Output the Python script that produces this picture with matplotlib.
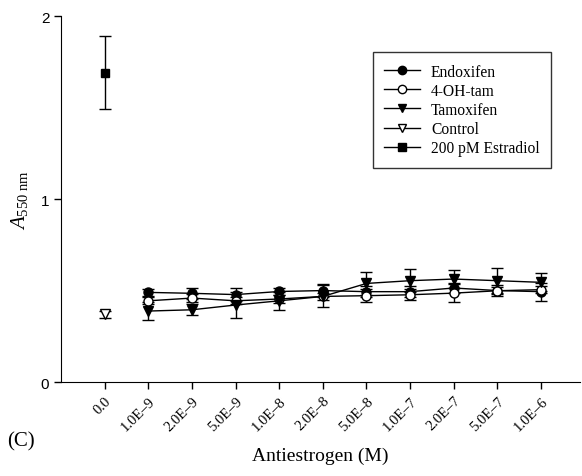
import matplotlib
matplotlib.use("Agg")
import matplotlib.pyplot as plt
from matplotlib.lines import Line2D
import numpy as np

plt.rcParams["mathtext.fontset"] = "custom"
plt.rcParams["mathtext.rm"] = "Liberation Serif"
plt.rcParams["mathtext.it"] = "Liberation Serif:italic"

etiquetas = ["0.0", "1.0E–9", "2.0E–9", "5.0E–9", "1.0E–8", "2.0E–8",
             "5.0E–8", "1.0E–7", "2.0E–7", "5.0E–7", "1.0E–6"]

endoxifen = [0.49, 0.485, 0.478, 0.495, 0.50, 0.494, 0.494, 0.514, 0.50, 0.494]
endoxifen_err = [0.02, 0.03, 0.035, 0.02, 0.035, 0.03, 0.03, 0.03, 0.03, 0.05]
oh_tam = [0.444, 0.459, 0.444, 0.454, 0.468, 0.472, 0.477, 0.486, 0.499, 0.505]
oh_tam_err = [0.02, 0.02, 0.02, 0.02, 0.02, 0.035, 0.03, 0.05, 0.02, 0.02]
tamoxifen = [0.388, 0.395, 0.421, 0.444, 0.468, 0.539, 0.554, 0.563, 0.554, 0.545]
tamoxifen_err = [0.05, 0.03, 0.07, 0.05, 0.06, 0.065, 0.063, 0.05, 0.067, 0.05]
control = [0.37]
control_err = [0.02]
estradiol = [1.69]
estradiol_err = [0.2]

x = np.arange(len(etiquetas))
serif = "Liberation Serif"

fig = plt.figure(figsize=(5.82, 4.77), dpi=100)
ax = fig.add_axes([0.105, 0.197, 0.892, 0.767])

estilo = dict(color="black", ecolor="black", elinewidth=1, capsize=4,
              capthick=1, linewidth=1, markersize=6.5)
ax.errorbar(x[1:], endoxifen, yerr=endoxifen_err, marker="o", mfc="black", **estilo)
ax.errorbar(x[1:], oh_tam, yerr=oh_tam_err, marker="o", mfc="white", **estilo)
ax.errorbar(x[1:], tamoxifen, yerr=tamoxifen_err, marker="v", mfc="black", **estilo)
ax.errorbar(x[:1], control, yerr=control_err, marker="v", mfc="white", **estilo)
ax.errorbar(x[:1], estradiol, yerr=estradiol_err, marker="s", mfc="black",
            **dict(estilo, markersize=6))

nombres = ["Endoxifen", "4-OH-tam", "Tamoxifen", "Control", "200 pM Estradiol"]
marcas = [("o", "black"), ("o", "white"), ("v", "black"), ("v", "white"), ("s", "black")]
manijas = [Line2D([], [], color="black", lw=1, marker=m, mfc=c, mec="black",
                  markersize=6) for m, c in marcas]

ax.set_xlim(-1, 10.9)
ax.set_ylim(0, 2)
ax.set_yticks([0, 1, 2])
ax.set_yticklabels(["0", "1", "2"], family="Liberation Sans", fontsize=11)
ax.set_xticks(x)
ax.set_xticklabels(etiquetas, rotation=45, ha="right", rotation_mode="anchor",
                   family=serif, fontsize=10.5)
ax.tick_params(direction="out", length=5, width=1)
ax.spines["top"].set_visible(False)
ax.spines["right"].set_visible(False)

ax.set_xlabel("Antiestrogen (M)", family=serif, fontsize=14, labelpad=10)
ax.set_ylabel(r"$\mathit{A}_{\mathrm{550\ nm}}$", fontsize=15, labelpad=8)
fig.text(0.012, 0.065, "(C)", family=serif, fontsize=15)

leg = ax.legend(manijas, nombres, loc="upper right", bbox_to_anchor=(0.944, 0.902),
                prop={"family": serif, "size": 11.2}, frameon=True,
                fancybox=False, edgecolor="black", handlelength=2.3,
                handletextpad=0.7, borderpad=0.75, labelspacing=0.2,
                borderaxespad=0)
leg.get_frame().set_linewidth(1)

fig.savefig("out.png", dpi=100)
